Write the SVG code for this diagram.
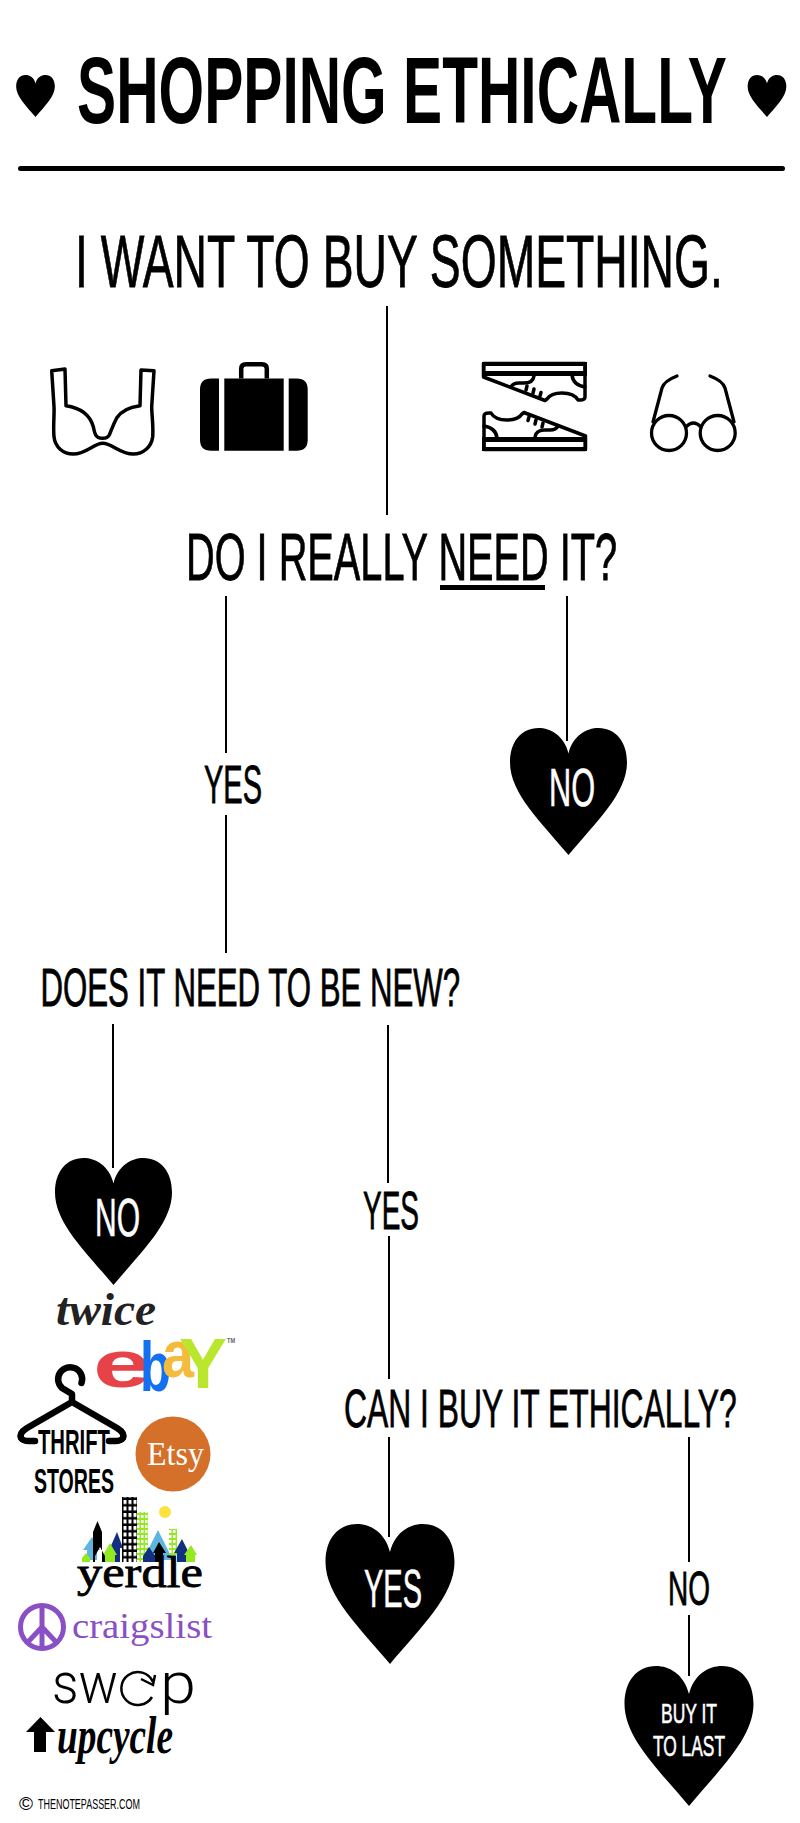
<svg xmlns="http://www.w3.org/2000/svg" width="800" height="1823" viewBox="0 0 800 1823">
<style>
text{font-family:"Liberation Sans Narrow","Liberation Sans",Arial,sans-serif;fill:#000}
.st{stroke:#000;stroke-width:.8}
.w{fill:#fff;stroke:#fff;stroke-width:.6}
.b{font-weight:700}
.conn line{stroke:#000;stroke-width:2}
.ic{fill:none;stroke:#000;stroke-width:3.500;stroke-linejoin:round;stroke-linecap:round}
.serif{font-family:"Liberation Serif",serif}
.sans{font-family:"Liberation Sans",sans-serif}
</style>
<defs>
<path id="heart" d="M0,28C-5,8-20,0-33,0C-52,0-64.500,15-64.500,38C-64.500,72-30,104 0,140C30,104 64.500,72 64.500,38C64.500,15 52,0 33,0C20,0 5,8 0,28Z"/>
<g id="shoe">
<path class="ic" d="M484,425V416Q484,413 489,413H491Q495,420 507,420Q518,420 522,414L524,412.500L585.500,436V449.500H484Z"/>
<path class="ic" d="M484,426Q496,428 497,438M535,437Q536,430 545,430H550Q556,430 558,426"/>
<path d="M482,437H587V451H482ZM485.500,442V447H583.500V442Z" fill="#000" fill-rule="evenodd"/>
<path class="ic" d="M529,417l-1,3.500M536,420l-1,4M543,423l-1,4" stroke-width="2.500"/>
</g>
<pattern id="winK" width="5" height="6.500" patternUnits="userSpaceOnUse" x="123.500" y="1500"><rect width="3" height="4" fill="#fff"/></pattern>
<pattern id="winG" width="4" height="5" patternUnits="userSpaceOnUse" x="137" y="1515"><rect width="2.500" height="3" fill="#fff"/></pattern>
</defs>

<g id="title">
<use href="#heart" transform="translate(35.500,75) scale(.3,.3)"/>
<text transform="translate(77,123) scale(.57,1)" font-size="94" class="b" textLength="1140" lengthAdjust="spacingAndGlyphs">SHOPPING ETHICALLY</text>
<use href="#heart" transform="translate(767,75) scale(.3,.3)"/>
<rect x="18" y="166" width="767" height="5" rx="2.500" fill="#000"/>
</g>

<g class="conn" id="connectors">
<line x1="387" y1="306" x2="387" y2="515"/>
<line x1="226" y1="596" x2="226" y2="753"/>
<line x1="226" y1="815" x2="226" y2="953"/>
<line x1="567" y1="596" x2="567" y2="741"/>
<line x1="113" y1="1024" x2="113" y2="1168"/>
<line x1="388" y1="1025" x2="388" y2="1183"/>
<line x1="389" y1="1236" x2="389" y2="1379"/>
<line x1="389" y1="1437" x2="389" y2="1537"/>
<line x1="689" y1="1437" x2="689" y2="1562"/>
<line x1="689" y1="1615" x2="689" y2="1676"/>
</g>

<g id="start"><text transform="translate(75,287) scale(.59,1)" font-size="74" class="st" textLength="1098" lengthAdjust="spacingAndGlyphs">I WANT TO BUY SOMETHING.</text></g>

<g id="icon-bra">
<path class="ic" d="M51.700,370.700L65,369L66,405.700C82,408 90,415 93.300,426.700C94,430 94.500,433 95.700,435C97,437.500 100,438.300 102.700,438.300C105.500,438.300 108,437.500 109.300,435C111.500,430 113,425 116.700,418C121,411 130,407 140,405.700L141,370L154,370.700L151.700,406.700C151.700,415 153.500,425 152.700,436.700C151.500,447 143,454 133.300,454C120,454 112,443.300 102.700,443.300C94,443.300 86,454 73.300,454C63,454 55,447 54,436.700C53,425 54.500,415 54,406.700Z"/>
</g>
<g id="icon-suitcase">
<path d="M219,378.500V450.700H211Q200,450.700 200,439.700V389.500Q200,378.500 211,378.500ZM224.300,378.500H283.700V450.700H224.300ZM288.700,378.500H296.700Q307.700,378.500 307.700,389.500V439.700Q307.700,450.700 296.700,450.700H288.700Z"/>
<path d="M241.200,378.500V369Q241.200,364.200 246,364.200H262Q266.800,364.200 266.800,369V378.500" fill="none" stroke="#000" stroke-width="4.500"/>
</g>
<g id="icon-shoes">
<use href="#shoe"/>
<use href="#shoe" transform="rotate(180 534.500 406.500)"/>
</g>
<g id="icon-glasses" fill="none" stroke="#000" stroke-width="3.300" stroke-linecap="round">
<circle cx="669" cy="433" r="17.500"/>
<circle cx="717.700" cy="433" r="17.500"/>
<path d="M686,427Q693.300,419 701,427M653,422L662,388Q664,381 677,376M734,422L725,388Q723,381 710,376"/>
</g>

<g id="q-need">
<text transform="translate(186,580) scale(.55,1)" font-size="66" class="st" textLength="784" lengthAdjust="spacingAndGlyphs">DO I REALLY NEED IT?</text>
<rect x="440" y="585" width="105" height="5"/>
</g>

<g id="label-yes-1"><text x="204" y="803" font-size="53" class="st" textLength="58" lengthAdjust="spacingAndGlyphs">YES</text></g>
<g id="heart-no-1">
<use href="#heart" transform="translate(568.500,728) scale(.907,.907)"/>
<text x="549" y="806" font-size="54" class="w" textLength="46" lengthAdjust="spacingAndGlyphs">NO</text>
</g>

<g id="q-new"><text transform="translate(40.500,1006) scale(.55,1)" font-size="53" class="st" textLength="763" lengthAdjust="spacingAndGlyphs">DOES IT NEED TO BE NEW?</text></g>

<g id="heart-no-2">
<use href="#heart" transform="translate(113.500,1158) scale(.907,.907)"/>
<text x="95" y="1236" font-size="53" class="w" textLength="45" lengthAdjust="spacingAndGlyphs">NO</text>
</g>
<g id="label-yes-2"><text x="363" y="1229" font-size="54" class="st" textLength="56" lengthAdjust="spacingAndGlyphs">YES</text></g>

<g id="q-ethical"><text transform="translate(344,1427) scale(.53,1)" font-size="54.500" class="st" textLength="741" lengthAdjust="spacingAndGlyphs">CAN I BUY IT ETHICALLY?</text></g>

<g id="heart-yes">
<use href="#heart" transform="translate(390,1524)"/>
<text x="364" y="1607" font-size="53" class="w" textLength="58" lengthAdjust="spacingAndGlyphs">YES</text>
</g>
<g id="label-no"><text x="668" y="1605" font-size="49" class="st" textLength="42" lengthAdjust="spacingAndGlyphs">NO</text></g>
<g id="heart-last">
<use href="#heart" transform="translate(689,1666)"/>
<text x="661" y="1723" font-size="28" class="w" textLength="56" lengthAdjust="spacingAndGlyphs">BUY IT</text>
<text x="653" y="1756" font-size="29" class="w" textLength="72" lengthAdjust="spacingAndGlyphs">TO LAST</text>
</g>

<g id="logo-twice"><text x="56" y="1325" font-size="46" class="serif b" font-style="italic" style="fill:#222" textLength="100" lengthAdjust="spacingAndGlyphs">twice</text></g>

<g id="logo-ebay" opacity=".92">
<text x="93" y="1387" font-size="66" class="sans b" style="fill:#e53238" textLength="58" lengthAdjust="spacingAndGlyphs">e</text>
<text x="140" y="1391" font-size="71" class="sans b" style="fill:#0064f0" textLength="31" lengthAdjust="spacingAndGlyphs">b</text>
<text x="162" y="1377" font-size="66" class="sans b" style="fill:#f5b62c" textLength="32" lengthAdjust="spacingAndGlyphs">a</text>
<text x="179" y="1388" font-size="71" class="sans b" style="fill:#b5e61d" textLength="48" lengthAdjust="spacingAndGlyphs">Y</text>
<text x="227" y="1343" font-size="7" class="sans b" style="fill:#555" textLength="8" lengthAdjust="spacingAndGlyphs">TM</text>
</g>

<g id="logo-thrift">
<path d="M81.500,1383A12,12 0 1 0 62,1388Q67,1391 72,1394V1402L27,1428Q19,1433 21,1438Q23,1441 29,1441H35M72,1402L117,1428Q125,1433 123,1438Q121,1441 115,1441H109" fill="none" stroke="#000" stroke-width="6.500" stroke-linecap="round" stroke-linejoin="round"/>
<text x="38" y="1454" font-size="35" class="b" textLength="72" lengthAdjust="spacingAndGlyphs">THRIFT</text>
<text x="34" y="1493" font-size="35" class="b" textLength="80" lengthAdjust="spacingAndGlyphs">STORES</text>
</g>

<g id="logo-etsy">
<circle cx="173" cy="1454" r="37.500" fill="#d5702b"/>
<text x="147" y="1465" font-size="33" class="serif" style="fill:#fff" textLength="57" lengthAdjust="spacingAndGlyphs">Etsy</text>
</g>

<g id="logo-yerdle">
<circle cx="165" cy="1512" r="6" fill="#fae33e"/>
<path fill="#5fb4e0" d="M92,1537L83,1550H87V1560H97V1550H100ZM158,1530L143,1560H173Z"/>
<rect x="169" y="1529" width="8" height="26" fill="#93ea1f"/>
<rect x="169" y="1529" width="8" height="26" fill="url(#winG)"/>
<rect x="137" y="1512" width="11" height="50" fill="#93ea1f"/>
<rect x="137" y="1512" width="11" height="50" fill="url(#winG)"/>
<path fill="#12307f" d="M117,1532L110,1548H113V1562H120V1548H123ZM182,1539L174,1553H177V1562H187V1553H189ZM149,1547L143,1556V1562H155V1556Z"/>
<path fill="#93ea1f" d="M110,1543L103,1555H105V1562H115V1555H117ZM191,1545L184,1555H186V1562H195V1555H197ZM86,1553L82,1558V1562H90V1558Z"/>
<path d="M93,1532L97.500,1521L102,1532V1562H93ZM159,1542L153,1553H155V1562H163V1553H166ZM100,1547L95,1556V1562H105V1556Z"/>
<rect x="122" y="1497" width="15" height="65"/>
<rect x="122" y="1497" width="15" height="65" fill="url(#winK)"/>
<text x="77" y="1587" font-size="44" class="serif st" textLength="126" lengthAdjust="spacingAndGlyphs">yerdle</text>
</g>

<g id="logo-craigslist">
<circle cx="42" cy="1627" r="21.500" fill="none" stroke="#8a4fc4" stroke-width="5"/>
<path d="M42,1606V1648M42,1627L27,1643M42,1627L57,1643" fill="none" stroke="#8a4fc4" stroke-width="5"/>
<text x="72" y="1638" font-size="36" class="serif" style="fill:#8a4fc4" textLength="140" lengthAdjust="spacingAndGlyphs">craigslist</text>
</g>

<g id="logo-swap">
<text x="52" y="1703" font-size="58" style="font-family:Roboto,sans-serif;font-weight:300" textLength="66" lengthAdjust="spacingAndGlyphs">sw</text>
<path d="M152,1697A16.500,16.500 0 1 1 153,1682M141,1679L153,1685L155,1675" fill="none" stroke="#000" stroke-width="2.500"/>
<text x="160" y="1703" font-size="58" style="font-family:Roboto,sans-serif;font-weight:300" textLength="36" lengthAdjust="spacingAndGlyphs">p</text>
</g>

<g id="logo-upcycle">
<path d="M40.500,1717L55,1732H46V1752H34V1732H26Z"/>
<text x="57" y="1753" font-size="52" class="serif b" font-style="italic" textLength="116" lengthAdjust="spacingAndGlyphs">upcycle</text>
</g>

<g id="credit">
<text x="19" y="1810" font-size="19" class="sans">©</text>
<text x="38" y="1809" font-size="15" textLength="102" lengthAdjust="spacingAndGlyphs">THENOTEPASSER.COM</text>
</g>
</svg>
